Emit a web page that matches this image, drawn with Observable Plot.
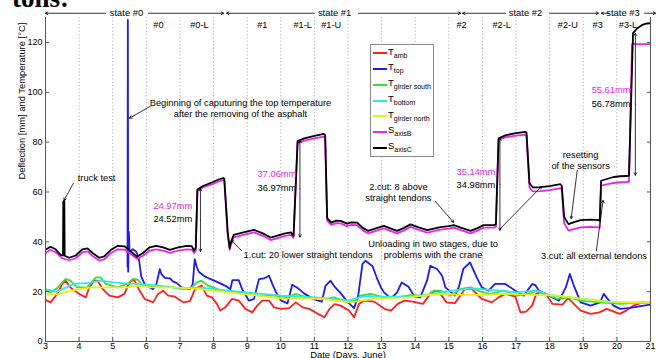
<!DOCTYPE html>
<html><head><meta charset="utf-8">
<script src="https://cdn.jsdelivr.net/npm/d3@7"></script>
<script src="https://cdn.jsdelivr.net/npm/@observablehq/plot@0.6"></script>
<style>
html,body{margin:0;padding:0;background:#fff;}
#wrap{position:relative;width:660px;height:358px;overflow:hidden;font-family:"Liberation Sans",Arial,sans-serif;}
#doc{position:absolute;left:12px;top:-15px;font:bold 27px/27px "Liberation Serif","DejaVu Serif",serif;color:#000;white-space:nowrap;}
#legend{position:absolute;left:370px;top:44px;width:64px;height:113px;border:1px solid #8a8a8a;background:#fff;box-sizing:border-box;}
.sw{position:absolute;left:373px;width:14px;height:2px;}
.lt{position:absolute;left:388px;font-size:9.5px;line-height:10px;color:#000;white-space:nowrap;}
.lt sub{font-size:7px;vertical-align:baseline;position:relative;top:3px;}
</style></head>
<body><div id="wrap"></div>
<script>
// ---- data (day of June, value) ----
const xTicks = [3,4,5,6,7,8,9,10,11,12,13,14,15,16,17,18,19,20,21];
const yTicks = [0,20,40,60,80,100,120];
const gridDays = [4,5,6,7,8,9,10,11,12,13,14,15,16,17,18,19,20];

const tAmb = [[3.0,16.7],[3.15,15.7],[3.35,19.1],[3.5,23.1],[3.6,24.4],[3.74,21.7],[4.0,19.1],[4.2,17.7],[4.3,21.7],[4.45,24.4],[4.55,24.4],[4.7,21.1],[4.9,18.4],[5.15,17.7],[5.35,19.1],[5.45,22.4],[5.55,24.4],[5.65,24.4],[5.8,20.4],[5.95,17.1],[6.2,15.7],[6.35,19.1],[6.5,20.4],[6.65,18.4],[6.85,18.0],[7.1,15.7],[7.3,16.2],[7.45,21.1],[7.65,22.4],[7.8,18.4],[7.95,17.7],[8.1,15.1],[8.2,12.4],[8.35,13.7],[8.55,17.1],[8.75,16.4],[8.95,13.1],[9.15,11.7],[9.3,14.4],[9.45,16.4],[9.65,16.4],[9.8,13.7],[10.0,13.1],[10.25,13.4],[10.45,15.7],[10.65,13.7],[10.85,13.1],[11.1,11.1],[11.3,9.7],[11.45,13.1],[11.6,15.0],[11.78,14.4],[12.03,12.4],[12.18,9.7],[12.33,15.1],[12.48,16.4],[12.78,16.0],[13.08,13.1],[13.28,12.4],[13.48,15.1],[13.68,16.4],[13.93,16.0],[14.23,15.1],[14.48,19.7],[14.68,20.4],[14.93,15.7],[15.18,15.4],[15.48,21.1],[15.68,21.1],[15.98,17.1],[16.28,15.7],[16.48,17.7],[16.68,19.1],[16.98,18.0],[17.13,11.7],[17.3,12.0],[17.48,14.4],[17.6,19.1],[17.7,19.7],[17.88,19.2],[18.08,15.1],[18.38,14.8],[18.55,17.4],[18.72,15.1],[18.92,12.4],[19.22,11.1],[19.48,11.7],[19.7,13.1],[20.08,11.1],[20.28,12.4],[20.48,14.4],[20.78,15.7]];

const tTop = [[5.44,30],[5.45,129],[5.46,28],[5.48,44],[5.5,36],[5.6,37],[5.7,36],[5.78,33],[5.85,26],[5.95,23],[6.05,22],[6.2,21],[6.3,23],[6.4,29],[6.45,27],[6.55,25.5],[6.7,25.3],[6.8,24],[6.9,23.5],[7.05,21.7],[7.3,21],[7.38,23],[7.44,33],[7.5,30],[7.56,28],[7.7,26.5],[7.8,25.7],[8.0,24.5],[8.2,23.3],[8.4,22],[8.5,21],[8.56,24.6],[8.75,24.6],[8.85,21],[9.05,16.4],[9.2,17.0],[9.35,25.0],[9.5,25.3],[9.65,26.4],[9.75,23],[9.85,20],[10.0,16.5],[10.2,15.3],[10.34,22.8],[10.5,21.5],[10.7,19.2],[10.98,17.0],[11.22,16.0],[11.33,22.3],[11.48,24.4],[11.6,22],[11.78,19.4],[11.98,16.0],[12.18,13.4],[12.3,18],[12.43,31.1],[12.52,32.4],[12.73,30.2],[12.87,25.1],[12.98,21.7],[13.07,19.7],[13.28,17.3],[13.46,19.7],[13.6,23.7],[13.8,22],[13.98,18.0],[14.15,17.7],[14.35,24.4],[14.45,30.4],[14.65,29.1],[14.8,26.4],[14.9,21.7],[15.18,18.4],[15.3,22],[15.43,29.1],[15.63,31.7],[15.83,25.7],[15.98,21.7],[16.18,20.4],[16.38,23.1],[16.68,23.1],[16.98,20.4],[17.23,18.4],[17.48,23.1],[17.58,22.5],[17.68,20.4],[17.98,18.4],[18.28,16.4],[18.48,21.7],[18.6,27.1],[18.72,22.4],[18.92,15.7],[19.22,14.4],[19.5,15.7],[19.61,19.1],[19.7,17.5],[19.9,14.4],[20.1,13.1],[20.4,13.5],[20.8,14.4],[21.0,14.8]];

const tGirderSouth = [[3.0,20.4],[3.15,19.7],[3.35,21.5],[3.6,25.1],[3.74,24.4],[3.94,21.7],[4.24,21.7],[4.5,25.7],[4.64,25.7],[4.79,23.1],[5.14,21.7],[5.44,23.1],[5.6,25.1],[5.74,24.8],[5.9,22.4],[6.35,21.7],[6.65,22.0],[7.05,21.1],[7.3,21.1],[7.5,23.7],[7.64,24.4],[7.84,22.4],[8.24,20.4],[8.84,19.7],[9.4,18.4],[9.7,18.6],[10.2,17.7],[10.44,19.1],[10.78,17.7],[11.38,17.1],[11.58,17.7],[11.98,15.7],[12.22,16.4],[12.37,18.4],[12.67,19.1],[13.07,17.7],[13.46,17.7],[13.86,18.6],[14.35,18.4],[14.55,20.4],[14.75,20.4],[15.05,18.4],[15.35,21.1],[15.65,21.7],[15.95,20.0],[16.24,19.1],[16.64,20.4],[17.04,18.4],[17.43,19.5],[17.63,20.4],[17.93,18.8],[18.23,17.1],[18.58,17.7],[18.92,16.4],[19.51,15.7],[20.1,15.1],[20.7,15.7],[21.0,15.7]];

const tBottom = [[3.0,21.0],[3.35,20.0],[3.84,23.1],[4.3,23.5],[4.64,24.4],[5.04,23.7],[5.4,23.2],[5.74,23.1],[6.35,22.4],[7.05,21.3],[7.64,21.6],[8.44,20.4],[9.14,19.5],[10.0,18.4],[11.0,17.7],[12.0,16.5],[12.5,18.2],[13.0,18.0],[14.0,18.0],[15.0,20.2],[15.7,21.3],[16.5,20.4],[17.0,19.7],[17.6,20.4],[18.0,18.6],[19.0,17.1],[20.0,15.7],[21.0,15.4]];

const tGirderNorth = [[3.0,18.9],[3.35,18.9],[3.8,20.5],[4.35,21.7],[4.85,21.7],[5.44,21.7],[5.7,22.4],[6.15,21.7],[6.84,21.7],[7.54,21.1],[8.44,19.7],[9.14,18.7],[10.0,17.3],[11.25,17.1],[12.07,15.7],[12.77,17.1],[13.76,17.7],[14.75,19.1],[15.35,18.7],[15.95,18.7],[16.74,19.1],[17.53,18.7],[18.23,18.4],[18.92,17.1],[19.71,16.0],[20.3,15.7],[21.0,15.7]];

const sAxisB = [[3.0,35.5],[3.15,36.8],[3.3,35.8],[3.5,33.4],[3.7,32.6],[3.9,33.4],[4.1,35.8],[4.25,36.2],[4.4,34.3],[4.6,32.5],[4.75,33.0],[4.95,35.5],[5.15,37.0],[5.35,36.9],[5.55,35.0],[5.72,33.2],[5.9,34.4],[6.1,36.5],[6.3,37.0],[6.5,36.5],[6.7,35.6],[6.95,36.5],[7.2,37.0],[7.35,36.9],[7.42,35.5],[7.47,36.3],[7.52,60.5],[7.7,62.0],[7.95,63.0],[8.15,64.2],[8.29,64.8],[8.32,64.5],[8.42,43.0],[8.48,36.8],[8.52,39.0],[8.6,41.8],[8.8,42.5],[9.2,43.8],[9.45,42.5],[9.7,40.7],[9.9,41.5],[10.1,42.3],[10.3,42.8],[10.38,41.6],[10.5,79.6],[10.7,80.6],[11.0,81.5],[11.28,82.2],[11.32,81.8],[11.38,48.5],[11.5,46.8],[11.65,47.5],[11.78,47.4],[11.97,46.3],[12.1,46.8],[12.27,46.7],[12.45,44.5],[12.6,43.4],[12.85,44.5],[13.07,45.4],[13.3,44.2],[13.46,43.4],[13.65,44.5],[13.86,46.0],[14.1,44.8],[14.36,43.7],[14.55,44.3],[14.75,44.9],[15.0,45.3],[15.15,45.7],[15.4,44.5],[15.65,43.4],[15.85,44.5],[16.04,45.7],[16.34,45.7],[16.4,46.0],[16.48,81.0],[16.7,82.0],[17.0,82.6],[17.28,83.0],[17.31,82.7],[17.4,61.8],[17.5,60.2],[17.73,60.3],[18.0,60.7],[18.32,61.5],[18.36,61.0],[18.43,47.5],[18.56,44.5],[18.75,45.2],[18.92,45.8],[19.2,46.0],[19.46,45.8],[19.49,45.6],[19.53,62.5],[19.7,63.0],[19.9,63.6],[20.1,63.9],[20.3,64.0],[20.36,64.1],[20.45,119.3],[21.0,119.3]];

const sAxisC = [[3.0,36.8],[3.15,38.0],[3.3,37.0],[3.45,34.8],[3.52,34.5],[3.53,56.2],[3.56,56.4],[3.57,34.4],[3.7,33.6],[3.9,34.5],[4.1,37.0],[4.25,37.4],[4.4,35.5],[4.6,33.6],[4.75,34.2],[4.95,36.8],[5.15,38.4],[5.35,38.2],[5.55,36.0],[5.72,34.0],[5.9,35.5],[6.1,37.8],[6.3,38.4],[6.5,37.8],[6.7,36.8],[6.95,37.8],[7.2,38.4],[7.35,38.3],[7.42,36.5],[7.47,37.5],[7.52,61.0],[7.7,62.5],[7.95,63.8],[8.15,65.0],[8.29,65.6],[8.32,65.2],[8.42,44.0],[8.48,37.5],[8.52,40.0],[8.6,42.8],[8.8,43.5],[9.2,44.8],[9.45,43.5],[9.7,41.7],[9.9,42.5],[10.1,43.3],[10.3,43.8],[10.38,42.4],[10.5,80.4],[10.7,81.5],[11.0,82.5],[11.28,83.3],[11.32,82.8],[11.38,49.5],[11.5,47.7],[11.65,48.5],[11.78,48.4],[11.97,47.3],[12.1,47.8],[12.27,47.7],[12.45,45.5],[12.6,44.4],[12.85,45.5],[13.07,46.4],[13.3,45.2],[13.46,44.4],[13.65,45.5],[13.86,47.0],[14.1,45.8],[14.36,44.7],[14.55,45.3],[14.75,45.9],[15.0,46.3],[15.15,46.7],[15.4,45.5],[15.65,44.4],[15.85,45.5],[16.04,46.7],[16.34,46.7],[16.4,47.0],[16.48,81.5],[16.7,82.8],[17.0,83.6],[17.28,84.1],[17.31,83.8],[17.4,63.5],[17.5,61.8],[17.73,61.9],[18.0,62.3],[18.32,63.1],[18.36,62.5],[18.43,50.0],[18.56,47.1],[18.75,48.0],[18.92,48.7],[19.2,48.9],[19.46,48.7],[19.49,48.5],[19.53,64.5],[19.7,65.2],[19.9,66.0],[20.1,66.3],[20.3,66.4],[20.36,66.6],[20.48,123.7],[20.6,125.6],[20.75,127.0],[20.9,127.6],[21.0,127.7]];

const legendNames = [["T","amb"],["T","top"],["T","girder south"],["T","bottom"],["T","girder north"],["S","axisB"],["S","axisC"]];
const seriesColors = ["#ff1f1f","#1c1cf0","#35e035","#30e8e8","#eeee10","#ee22ee","#000000"];

// ---- annotations (positions in data units) ----
const stageText = ["state #0","state #1","state #2","state #3"];
const stageAt = [5.41, 11.6, 17.28, 20.18];
const stageArrows = [[4.79,3.0],[6.06,8.30],[11.0,8.39],[12.31,15.35],[16.69,15.41],[17.99,19.45],[19.75,19.54],[20.82,21.15]];
const stepText = ["#0","#0-L","#1","#1-L","#1-U","#2","#2-L","#2-U","#3","#3-L"];
const stepAt = [6.36,7.58,9.45,10.65,11.5,15.38,16.57,18.54,19.43,20.33];

const notesMid = [
  {t:"Beginning of caputuring the top temperature\nafter the removing of the asphalt", d:8.8, v:93.8},
  {t:"truck test", d:4.52, v:65.7},
  {t:"2.cut: 8 above\nstraight tendons", d:13.5, v:60.1},
  {t:"Unloading in two stages, due to\nproblems with the crane", d:14.53, v:37.2},
  {t:"resetting\nof the sensors", d:18.92, v:72.9},
  {t:"3.cut: all external tendons", d:19.32, v:34.5}
];
const notesStart = [
  {t:"1.cut: 20 lower straight tendons", d:8.89, v:34.7, c:"#000"},
  {t:"24.97mm", d:6.21, v:54.2, c:"#ee22ee"},
  {t:"24.52mm", d:6.21, v:49.0, c:"#000"},
  {t:"37.06mm", d:9.31, v:67.1, c:"#ee22ee"},
  {t:"36.97mm", d:9.31, v:61.6, c:"#000"},
  {t:"35.14mm", d:15.23, v:68.0, c:"#ee22ee"},
  {t:"34.98mm", d:15.23, v:62.9, c:"#000"},
  {t:"55.61mm", d:19.25, v:100.8, c:"#ee22ee"},
  {t:"56.78mm", d:19.25, v:95.2, c:"#000"}
];
const pointers = [
  [6.12,94.4,5.50,89.6],
  [3.83,63.5,3.55,56.6],
  [8.83,36.5,8.53,40.6],
  [14.6,56.2,15.14,47.8],
  [16.51,45.0,17.76,62.2],
  [18.82,68.7,18.64,49.3],
  [19.39,36.5,19.59,56.6]
];
const spans = [[7.61,61.4,36.1],[10.57,80.7,41.9],[16.52,81.5,44.6],[20.55,123.7,66.7]];

const ink = "#000";
const lineW = 1.8;
const seriesList = [tAmb,tTop,tGirderSouth,tBottom,tGirderNorth,sAxisB,sAxisC];

const marks = [
  Plot.ruleX(gridDays, {stroke:"#9a9a9a", strokeWidth:0.8, strokeDasharray:"1.2,2.2"}),
  ...seriesList.map((s,i) => Plot.line(s, {stroke: seriesColors[i], strokeWidth: lineW, clip: true})),
  Plot.ruleX([3,21], {stroke:"#555", strokeWidth:1}),
  Plot.ruleY([0], {stroke:"#555", strokeWidth:1}),
  Plot.axisX({ticks: xTicks, tickSize:-4, tickPadding:5, label:null, tickFormat: d=>String(d), stroke:"#555"}),
  Plot.axisY({ticks: yTicks, tickSize:-4, tickPadding:7, label:null, stroke:"#555"}),
  Plot.axisY({anchor:"right", ticks: yTicks, tickSize:-4, label:null, tickFormat: () => "", stroke:"#555"}),
  Plot.text(["Deflection [mm] and Temperature [°C]"], {frameAnchor:"left", rotate:-90, dx:-24, fontSize:9.4, fill:ink}),
  Plot.text(["Date (Days, June)"], {frameAnchor:"bottom", dy:16, fontSize:9.4, fill:ink}),
  // state bar
  Plot.arrow(stageArrows, {x1:d=>d[0], x2:d=>d[1], y1:131.7, y2:131.7, stroke:ink, strokeWidth:0.8, headLength:5, headAngle:60, clip:false}),
  Plot.text(stageText, {x:(d,i)=>stageAt[i], y:131.7, fontSize:9.4, fill:ink}),
  Plot.text(stepText, {x:(d,i)=>stepAt[i], y:126.9, fontSize:9.2, fill:ink}),
  // notes
  Plot.text(notesMid, {x:"d", y:"v", text:"t", fontSize:9.3, lineHeight:1.18, fill:ink}),
  Plot.text(notesStart, {x:"d", y:"v", text:"t", fontSize:9.3, textAnchor:"start", fill:"c"}),
  Plot.arrow(pointers, {x1:d=>d[0], y1:d=>d[1], x2:d=>d[2], y2:d=>d[3], stroke:ink, strokeWidth:0.8, headLength:5}),
  Plot.arrow(spans, {x1:d=>d[0], y1:d=>(d[1]+d[2])/2, x2:d=>d[0], y2:d=>d[1], stroke:ink, strokeWidth:0.8, headLength:5}),
  Plot.arrow(spans, {x1:d=>d[0], y1:d=>(d[1]+d[2])/2, x2:d=>d[0], y2:d=>d[2], stroke:ink, strokeWidth:0.8, headLength:5})
];

const chart = Plot.plot({
  width: 660, height: 358,
  marginLeft: 45, marginRight: 10, marginTop: 17, marginBottom: 17,
  x: {domain: [3, 21]},
  y: {domain: [0, 130]},
  color: {type: "identity"},
  style: {fontFamily: "'Liberation Sans', Arial, sans-serif", fontSize: "9px", color: "#000", background: "transparent", overflow: "visible"},
  marks
});
const wrap = document.getElementById("wrap");
wrap.appendChild(chart);

// document fragment above the figure
const doc = document.createElement("div");
doc.id = "doc"; doc.textContent = "tons:";
wrap.appendChild(doc);

// legend box (inside the axes, like the original)
const lg = document.createElement("div");
lg.id = "legend";
wrap.appendChild(lg);
const rowY = [53.3, 69.0, 84.8, 100.6, 116.4, 132.2, 148.0];
legendNames.forEach(([m, s], i) => {
  const sw = document.createElement("div");
  sw.className = "sw"; sw.style.top = (rowY[i] - 1) + "px"; sw.style.background = seriesColors[i];
  wrap.appendChild(sw);
  const t = document.createElement("div");
  t.className = "lt"; t.style.top = (rowY[i] - 6.8) + "px";
  t.innerHTML = m + "<sub>" + s + "</sub>";
  wrap.appendChild(t);
});
</script></body></html>
